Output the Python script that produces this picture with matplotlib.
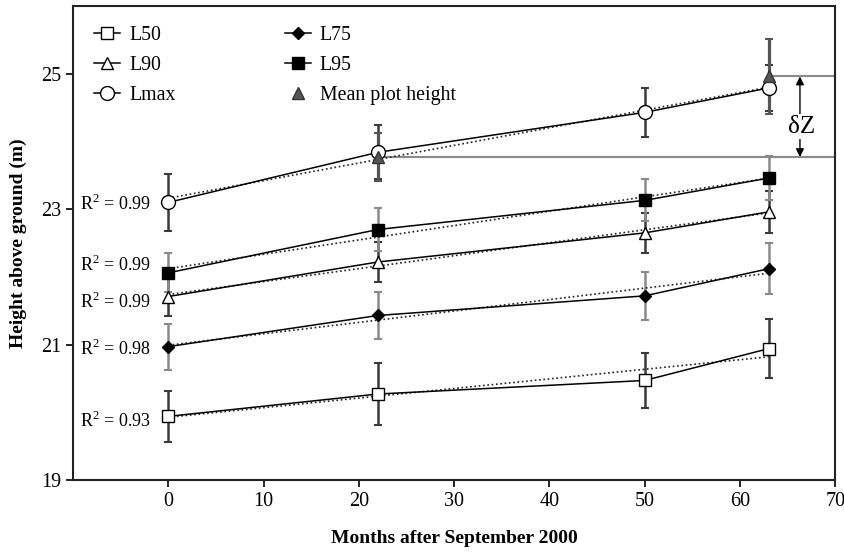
import numpy as np
import matplotlib
matplotlib.use("Agg")
import matplotlib.pyplot as plt

plt.rcParams['font.family'] = 'serif'
plt.rcParams['font.serif'] = ['Liberation Serif', 'DejaVu Serif']
plt.rcParams['mathtext.fontset'] = 'custom'
plt.rcParams['mathtext.rm'] = 'Liberation Serif'

# months after September 2000
months = [0, 22, 50, 63]

l50 = [19.94, 20.27, 20.47, 20.94]
l50_err = [0.38, 0.46, 0.40, 0.44]
l75 = [20.97, 21.43, 21.72, 22.12]
l75_err = [0.34, 0.35, 0.35, 0.38]
l90 = [21.71, 22.22, 22.65, 22.96]
l90_err = [0.29, 0.29, 0.29, 0.31]
l95 = [22.06, 22.70, 23.13, 23.46]
l95_err = [0.29, 0.32, 0.31, 0.32]
lmax = [23.10, 23.84, 24.43, 24.79]
lmax_err = [0.42, 0.40, 0.36, 0.34]

mean_months = [22, 63]
mean_height = [23.77, 24.96]
mean_err = [0.35, 0.56]

r2_labels = ['0.93', '0.98', '0.99', '0.99', '0.99']
r2_y = [19.87, 20.93, 21.63, 22.17, 23.08]

fig = plt.figure(figsize=(8.45, 5.53), dpi=100)
ax = fig.add_axes([0.0864, 0.132, 0.902, 0.857])

series = [
    (l50, l50_err, 's', 'white', '#3a3a3a', 'L50'),
    (l75, l75_err, 'D', 'black', '#8a8a8a', 'L75'),
    (l90, l90_err, '^', 'white', '#3a3a3a', 'L90'),
    (l95, l95_err, 's', 'black', '#8a8a8a', 'L95'),
    (lmax, lmax_err, 'o', 'white', '#3a3a3a', 'Lmax'),
]
sizes = {'s': 8.5, 'D': 6.5, '^': 9, 'o': 10}
handles = {}
for vals, err, mk, fc, ecol, name in series:
    ax.errorbar(months, vals, yerr=err, fmt='none', ecolor=ecol,
                elinewidth=1.8, capsize=3, capthick=1.5, zorder=2)
    # linear fit (dotted)
    k, b = np.polyfit(months, vals, 1)
    xf = np.array([months[0], months[-1]])
    ax.plot(xf, k * xf + b, color='#222222', lw=1.2, ls=(0, (1, 1.6)), zorder=3)
    h, = ax.plot(months, vals, color='black', lw=1.1, marker=mk,
                 ms=sizes[mk], mfc=fc, mec='black', mew=1.0, zorder=4, label=name)
    handles[name] = h

# mean plot height
ax.errorbar(mean_months, mean_height, yerr=mean_err, fmt='none', ecolor='#555555',
            elinewidth=2.3, capsize=3, capthick=1.5, zorder=2)
hm, = ax.plot(mean_months, mean_height, ls='none', marker='^', ms=9,
              mfc='#555555', mec='#333333', zorder=5, label='Mean plot height')
handles['Mean plot height'] = hm

# reference lines at mean plot height
ax.plot([mean_months[0], 70], [mean_height[0]] * 2, color='#8a8a8a', lw=1.5, zorder=1)
ax.plot([mean_months[1], 70], [mean_height[1]] * 2, color='#8a8a8a', lw=1.5, zorder=1)

ax.annotate('', xy=(66.3, mean_height[1]), xytext=(66.3, mean_height[0]),
            arrowprops=dict(arrowstyle='<|-|>', color='black', lw=1.0,
                            shrinkA=0, shrinkB=0, mutation_scale=12))
ax.text(66.5, 24.22, 'δZ', ha='center', va='center', fontsize=18,
        bbox=dict(fc='white', ec='none', pad=1), zorder=6)

for lab, yy in zip(r2_labels, r2_y):
    ax.text(-1.8, yy, r'R$^{2}$ = ' + lab, ha='right', va='center', fontsize=13)

ax.set_xlim(-10, 70)
ax.set_ylim(19, 26)
ax.set_xticks([0, 10, 20, 30, 40, 50, 60, 70])
ax.set_yticks([19, 21, 23, 25])
ax.tick_params(labelsize=14.5, direction='out', length=5, width=1.2)
for s in ax.spines.values():
    s.set_linewidth(1.5)
    s.set_color('#222222')

ax.set_xlabel('Months after September 2000', fontsize=14, fontweight='bold', labelpad=14)
ax.set_ylabel('Height above ground (m)', fontsize=14, fontweight='bold', labelpad=10)

order = ['L50', 'L90', 'Lmax', 'L75', 'L95', 'Mean plot height']
ax.legend([handles[n] for n in order], order, ncol=2, loc='upper left', frameon=False,
          fontsize=14.3, handlelength=1.3, handletextpad=0.45, columnspacing=5.5,
          labelspacing=0.55, borderaxespad=0.6, bbox_to_anchor=(0.002, 1.0))

fig.savefig('out.png', dpi=100)
